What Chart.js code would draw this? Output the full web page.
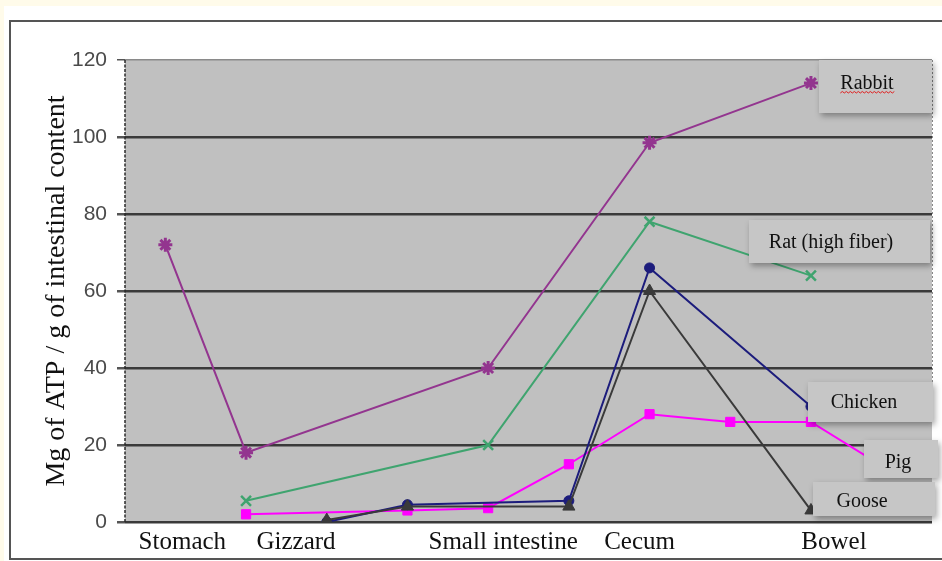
<!DOCTYPE html>
<html>
<head>
<meta charset="utf-8">
<script src="https://cdn.jsdelivr.net/npm/chart.js@4.4.0/dist/chart.umd.min.js"></script>
<style>
  html, body { margin: 0; padding: 0; background: #fff; }
  #wrap { width: 942px; height: 561px; }
</style>
</head>
<body>
<div id="wrap"><canvas id="atpChart" width="942" height="561"></canvas></div>
<script>
// categories along the gut (blank slots keep the spacing of the original sheet)
const stages = ['Stomach', 'Gizzard', '', '', 'Small intestine', '', 'Cecum', '', 'Bowel', ''];

// mg of ATP / g of intestinal content
const rabbit  = [72, 18, null, null, 40, null, 98.5, null, 114, null];
const rat     = [null, 5.5, null, null, 20, null, 78, null, 64, null];
const chicken = [null, null, 0, 4.5, null, 5.5, 66, null, 30, null];
const goose   = [null, null, 0.5, 4, null, 4, 60, null, 3, null];
const pig     = [null, 2, null, 3, 3.6, 15, 28, 26, 26, 13];

const yMin = 0;
const yMax = 120;
const yStep = 20;

// the category names sit in loose text boxes, a little off their points
const labelShift = [17, 50, 0, 0, 15, 0, -10, 0, 23, 0];

const serif = '"Liberation Serif", "DejaVu Serif", serif';

// gray background, outer frame, left axis
const framePlugin = {
    id: 'frame',
    beforeDraw(chart) {
        const { ctx, chartArea: a, width, height } = chart;
        ctx.save();
        ctx.fillStyle = '#fffbea';
        ctx.fillRect(0, 0, width, height);
        ctx.fillStyle = '#ffffff';
        ctx.fillRect(4, 6, width - 4, height - 6);
        ctx.strokeStyle = '#555';
        ctx.lineWidth = 2;
        ctx.strokeRect(10, 21, width, height - 23);
        ctx.fillStyle = '#c0c0c0';
        ctx.fillRect(a.left, a.top, a.right - a.left, a.bottom - a.top);
        ctx.strokeStyle = '#888';
        ctx.lineWidth = 1;
        ctx.setLineDash([2, 2]);
        ctx.beginPath();
        ctx.moveTo(a.right + 0.5, a.top);
        ctx.lineTo(a.right + 0.5, a.top + 360);
        ctx.stroke();
        ctx.restore();
    },
    beforeDatasetsDraw(chart) {
        const { ctx, chartArea: a } = chart;
        ctx.save();
        ctx.strokeStyle = '#2a2a2a';
        ctx.lineWidth = 1.5;
        ctx.setLineDash([3, 1.5]);
        ctx.beginPath();
        ctx.moveTo(a.left, a.top);
        ctx.lineTo(a.left, a.bottom);
        ctx.stroke();
        ctx.restore();
    },
    afterDraw(chart) {
        const { ctx, chartArea: a } = chart;
        const xs = chart.scales.x;
        ctx.save();
        ctx.fillStyle = '#111';
        ctx.font = '25px ' + serif;
        ctx.textAlign = 'center';
        ctx.textBaseline = 'middle';
        stages.forEach((name, i) => {
            if (!name) return;
            ctx.fillText(name, xs.getPixelForValue(i) + labelShift[i], a.bottom + 20);
        });
        ctx.restore();
    }
};

// text boxes naming each series
const nameBoxes = [
    { text: 'Rabbit', x: 819, y: 60, w: 113, h: 53, tx: 867, ty: 84, squiggle: true },
    { text: 'Rat (high fiber)', x: 749, y: 220, w: 181, h: 43, tx: 831, ty: 243 },
    { text: 'Chicken', x: 808, y: 382, w: 125, h: 40, tx: 864, ty: 403 },
    { text: 'Pig', x: 864, y: 440, w: 74, h: 38, tx: 898, ty: 463 },
    { text: 'Goose', x: 813, y: 482, w: 122, h: 34, tx: 862, ty: 502 }
];

const namePlugin = {
    id: 'names',
    afterDatasetsDraw(chart) {
        const ctx = chart.ctx;
        nameBoxes.forEach(b => {
            ctx.save();
            ctx.shadowColor = 'rgba(0,0,0,0.35)';
            ctx.shadowBlur = 6;
            ctx.shadowOffsetX = 2;
            ctx.shadowOffsetY = 3;
            ctx.fillStyle = '#c6c6c6';
            ctx.fillRect(b.x, b.y, b.w, b.h);
            ctx.restore();

            ctx.save();
            ctx.fillStyle = '#111';
            ctx.font = '20px ' + serif;
            ctx.textAlign = 'center';
            ctx.textBaseline = 'middle';
            ctx.fillText(b.text, b.tx, b.ty);
            if (b.squiggle) {
                const w = ctx.measureText(b.text).width;
                let sx = b.tx - w / 2;
                const sy = b.ty + 9;
                ctx.strokeStyle = '#e02020';
                ctx.lineWidth = 1;
                ctx.beginPath();
                ctx.moveTo(sx, sy);
                let up = true;
                while (sx < b.tx + w / 2) {
                    sx += 2;
                    ctx.lineTo(sx, up ? sy - 1.5 : sy);
                    up = !up;
                }
                ctx.stroke();
            }
            ctx.restore();
        });
    }
};

function series(label, data, color, style, radius, pointWidth) {
    return {
        label: label,
        data: data,
        borderColor: color,
        backgroundColor: color,
        pointStyle: style,
        pointRadius: radius,
        pointBorderWidth: pointWidth,
        pointBorderColor: color,
        pointBackgroundColor: color,
        borderWidth: 2,
        spanGaps: true,
        tension: 0,
        clip: 0
    };
}

const ctx = document.getElementById('atpChart').getContext('2d');

new Chart(ctx, {
    type: 'line',
    data: {
        labels: stages,
        datasets: [
            series('Goose', goose, '#3a3a3a', 'triangle', 7, 1),
            series('Chicken', chicken, '#1c1c7c', 'circle', 5, 1),
            series('Rat (high fiber)', rat, '#3fa46f', 'crossRot', 7, 2.5),
            series('Rabbit', rabbit, '#93358f', 'star', 7, 3),
            series('Pig', pig, '#ff00ff', 'rect', 6.5, 1)
        ]
    },
    options: {
        responsive: false,
        animation: false,
        events: [],
        layout: {
            padding: { top: 60, right: 9, bottom: 0, left: 10 }
        },
        plugins: {
            legend: { display: false },
            tooltip: { enabled: false }
        },
        scales: {
            x: {
                offset: true,
                afterFit(scale) { scale.height = 39; },
                grid: { display: false, drawTicks: false },
                border: { display: false },
                ticks: { display: false }
            },
            y: {
                min: yMin,
                max: yMax,
                afterFit(scale) { scale.width = 115; },
                grid: {
                    color: c => (c.tick && c.tick.value === yMax) ? '#8a8a8a' : '#3a3a3a',
                    lineWidth: c => (c.tick && c.tick.value === yMax) ? 1.5 : 2.5,
                    tickLength: 8,
                    tickColor: '#555'
                },
                border: { display: false },
                ticks: {
                    stepSize: yStep,
                    padding: 10,
                    color: '#4a4a4a',
                    font: { family: '"Liberation Sans", Arial, sans-serif', size: 21 }
                },
                title: {
                    display: true,
                    text: 'Mg of ATP / g of intestinal content',
                    color: '#111',
                    padding: { top: 30, bottom: 0 },
                    font: { family: serif, size: 28 }
                }
            }
        }
    },
    plugins: [framePlugin, namePlugin]
});
</script>
</body>
</html>
